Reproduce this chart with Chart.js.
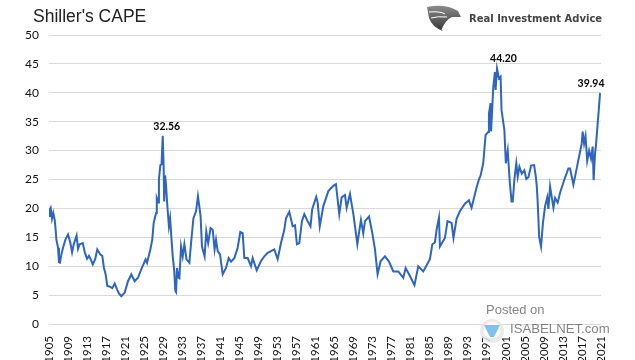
<!DOCTYPE html>
<html><head><meta charset="utf-8">
<style>html,body{margin:0;padding:0;background:#fff}#w{width:635px;height:360px;position:relative}canvas{display:block}</style>
<script src="https://cdn.jsdelivr.net/npm/chart.js@4/dist/chart.umd.min.js"></script>
</head><body><div id="w"><canvas id="c" width="635" height="360"></canvas></div>
<script>
const chartTitle = "Shiller's CAPE";
const yTicks = [0,5,10,15,20,25,30,35,40,45,50];
const xTickStep = 4;
const yearsEarly = [1905.0,1905.15,1905.35,1905.63,1905.9,1906.2,1906.4,1906.55,1906.9,1907.1,1907.3,1907.6,1907.95,1908.45,1909.0,1909.5,1909.85,1910.2,1910.8,1911.1,1911.45,1912.1,1912.55,1913.0,1913.4,1913.7,1914.2,1914.7,1915.15,1915.8,1916.2,1916.55,1916.9,1917.25,1917.7,1918.3,1918.8,1919.3,1919.7,1920.2,1920.9,1921.6,1922.3,1923.0,1923.7,1924.4,1925.3,1925.6,1926.3,1926.7,1927.0,1927.5,1927.65,1928.0,1928.1,1928.4,1928.65,1928.9];
const capeEarly = [18.7,19.8,20.1,18.2,19.2,18.0,16.3,14.6,13.2,10.7,10.6,12.0,13.2,14.6,15.5,14.0,12.4,13.8,15.3,13.0,13.8,14.0,12.3,11.3,11.8,11.3,10.3,11.2,12.9,12.0,11.8,9.7,8.6,6.6,6.5,6.2,7.0,6.0,5.3,4.8,5.4,7.4,8.6,7.4,8.0,9.5,11.2,10.6,12.9,14.6,17.5,19.2,21.8,21.0,25.0,27.5,27.6,32.56];
const yearsMid = [1929.1,1929.2,1929.4,1929.6,1929.8,1930.2,1930.45,1930.7,1931.0,1931.3,1931.55,1931.7,1931.9,1932.2,1932.4,1932.75,1933.1,1933.45,1933.9,1934.5,1934.85,1935.35,1935.9,1936.3,1936.85,1937.15,1937.7,1938.05,1938.45,1938.95,1939.4,1939.8,1940.1,1940.45,1940.95,1941.5,1942.2,1942.75,1943.25,1943.95,1944.65,1945.2,1945.7,1946.05,1946.75,1947.45,1947.8,1948.65,1949.55,1950.25,1950.95,1952.35,1953.05,1953.75,1954.45,1954.8,1955.5,1956.2,1956.7,1957.1,1957.6,1958.15,1958.65,1959.35,1959.95,1960.3,1961.15];
const capeMid = [27.0,21.2,25.7,24.0,21.2,16.9,18.3,15.2,11.7,9.4,5.7,5.5,9.7,8.0,7.9,13.4,11.7,13.8,11.2,10.6,14.0,18.3,19.5,22.1,18.7,13.4,11.7,16.0,14.0,16.6,16.3,12.9,14.6,12.6,12.0,8.6,9.7,11.4,10.8,11.4,13.2,15.9,15.7,11.4,11.4,10.0,11.4,9.3,10.9,11.7,12.3,12.9,11.2,14.0,16.3,18.3,19.4,16.9,17.1,13.8,14.0,17.8,19.0,17.8,16.9,19.8,22.0];
const yearsLate = [1961.46,1961.9,1962.65,1963.7,1964.75,1965.3,1966.0,1966.5,1967.2,1967.55,1968.25,1969.0,1969.8,1970.55,1971.05,1971.4,1972.25,1972.95,1973.5,1974.05,1974.7,1975.6,1976.45,1977.35,1978.4,1979.45,1979.95,1980.85,1981.8,1982.6,1983.65,1985.05,1985.55,1986.1,1986.45,1986.95,1987.15,1988.2,1988.75,1989.6,1990.0,1990.65,1991.35,1992.4,1993.25,1993.8,1994.85,1995.35,1995.7,1996.25,1996.75,1997.3,1997.45,1997.8,1997.9,1998.35,1998.7,1998.85,1999.15,1999.55,1999.9,2000.1,2000.7,2001.0,2001.4,2001.8,2002.2,2002.45,2002.8,2003.2,2003.5,2003.85,2004.35,2004.9,2005.3,2005.75,2006.3,2006.95,2007.3,2007.5,2007.7,2008.0,2008.4,2008.8,2009.25,2009.7,2009.95,2010.3,2011.0,2011.35,2011.9,2012.4,2013.3,2014.15,2014.5,2015.2,2015.55,2016.25,2016.95,2017.15,2017.45,2017.75,2018.1,2018.5,2018.9,2019.25,2019.45,2019.75,2019.95,2020.3,2020.5,2020.8];
const capeLate = [21.0,16.9,20.4,23.0,23.9,24.2,19.0,21.9,22.3,20.1,22.5,18.8,13.8,18.0,15.7,17.8,18.6,15.7,12.9,8.6,10.9,11.7,10.8,9.1,9.1,8.0,9.7,8.3,6.7,10.0,9.1,11.2,13.8,14.1,16.3,18.4,13.4,14.9,17.8,17.5,14.9,18.2,19.5,20.8,21.4,20.1,23.6,25.0,25.7,27.8,32.7,33.2,36.4,38.2,33.3,40.8,43.6,40.5,44.2,42.5,42.8,37.0,33.5,27.8,30.0,24.9,21.2,21.2,25.0,27.8,25.5,27.2,26.0,26.6,25.1,25.4,27.4,27.5,25.5,23.9,21.0,15.1,13.4,17.5,20.4,21.9,19.9,23.8,20.1,21.8,21.0,22.7,25.0,26.9,26.9,24.1,25.5,28.4,31.2,33.3,31.2,32.5,28.2,30.0,28.6,30.7,24.9,29.5,31.0,34.7,36.7,39.94];
const years = [...yearsEarly,...yearsMid,...yearsLate];
const cape = [...capeEarly,...capeMid,...capeLate];
const callouts = [{year:1928.9,value:32.56,label:"32.56",dx:4,dy:-6},{year:1999.15,value:44.2,label:"44.20",dx:6.5,dy:-7},{year:2020.8,value:39.94,label:"39.94",dx:-9,dy:-6}];
const logoText = "Real Investment Advice";
const postedText = "Posted on";
const siteText = "ISABELNET.com";

const overlay = {
  id:'overlay',
  afterDraw(chart){
    const ctx = chart.ctx, x = chart.scales.x, y = chart.scales.y;
    ctx.save();
    ctx.textBaseline='alphabetic';
    ctx.fillStyle='#222'; ctx.font='17.5px "Liberation Sans"'; ctx.textAlign='left';
    ctx.fillText(chartTitle,33,22);
    ctx.fillStyle='#000'; ctx.font='bold 10.5px Lato'; ctx.textAlign='center';
    callouts.forEach(c=>ctx.fillText(c.label,x.getPixelForValue(c.year)+c.dx,y.getPixelForValue(c.value)+c.dy));
    // eagle logo
    const g = ctx.createLinearGradient(428,6,428,32); g.addColorStop(0,'#8a8a8a'); g.addColorStop(1,'#333');
    ctx.fillStyle=g;
    ctx.beginPath(); ctx.moveTo(427,7); ctx.quadraticCurveTo(445,3,458,11); ctx.lineTo(461,17); ctx.lineTo(452,17);
    ctx.quadraticCurveTo(445,20,441,31); ctx.lineTo(443,31); ctx.quadraticCurveTo(432,27,429,18); ctx.closePath(); ctx.fill();
    ctx.strokeStyle='#fff'; ctx.lineWidth=1; ctx.beginPath(); ctx.moveTo(429,12); ctx.quadraticCurveTo(440,11,445,14); ctx.moveTo(431,18); ctx.quadraticCurveTo(438,16,447,17); ctx.stroke();
    ctx.fillStyle='#444'; ctx.font='bold 10px "DejaVu Sans"'; ctx.textAlign='left';
    ctx.fillText(logoText,469,22);
    // Isabelnet watermark
    ctx.globalAlpha=0.85;
    ctx.fillStyle='#e4e6e8'; ctx.beginPath(); ctx.arc(492,331,12,0,7); ctx.fill();
    ctx.fillStyle='#fff'; ctx.beginPath(); ctx.arc(492,330,8.5,0,7); ctx.fill();
    ctx.fillStyle='#6cb8ea'; ctx.beginPath(); ctx.moveTo(484,325); ctx.lineTo(500,325); ctx.lineTo(494,337); ctx.lineTo(490,337); ctx.closePath(); ctx.fill();
    ctx.globalAlpha=0.8;
    ctx.fillStyle='#666'; ctx.font='13px "Liberation Sans"';
    ctx.fillText(postedText,486,314);
    ctx.font='13.2px "Liberation Sans"';
    ctx.fillText(siteText,510,333);
    ctx.restore();
  }
};

new Chart(document.getElementById('c'),{
  type:'line',
  data:{datasets:[{data:years.map((t,i)=>({x:t,y:cape[i]})),borderColor:'#2f64bf',borderWidth:2,pointRadius:0,tension:0,fill:false}]},
  options:{
    responsive:false,animation:false,
    layout:{padding:{top:35,right:34,left:0,bottom:0}},
    plugins:{legend:{display:false},title:{display:false},tooltip:{enabled:false}},
    scales:{
      x:{type:'linear',min:1905,max:2021,
        afterBuildTicks(s){s.ticks=[];for(let v=1905;v<=2021;v+=xTickStep)s.ticks.push({value:v});},
        afterFit(s){s.height=36;},
        grid:{display:false},border:{display:false},
        ticks:{autoSkip:false,maxRotation:90,minRotation:90,padding:4,color:'#111',font:{family:'Lato',size:11.5},callback:v=>String(v)}},
      y:{min:0,max:50,
        afterBuildTicks(s){s.ticks=yTicks.map(v=>({value:v}));},
        afterFit(s){s.width=49;},
        grid:{color:'#d9d9d9',lineWidth:1,drawTicks:false},border:{display:false},
        ticks:{padding:10,color:'#111',font:{family:'Lato',size:12}}}
    }
  },
  plugins:[overlay]
});
</script></body></html>
